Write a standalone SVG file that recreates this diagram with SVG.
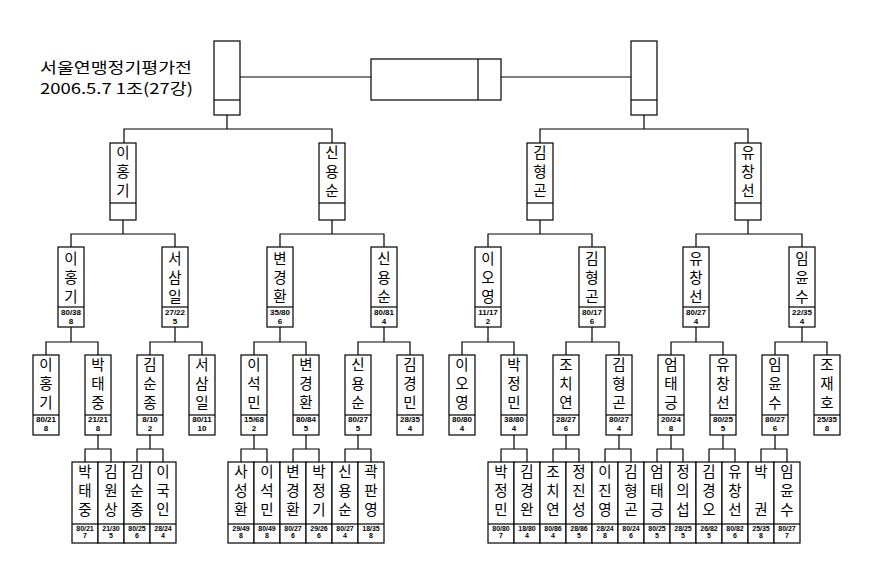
<svg xmlns="http://www.w3.org/2000/svg" width="874" height="570" viewBox="0 0 874 570">
<style>
.b{fill:#fff;stroke:#000;stroke-width:1.2}
.d{stroke:#000;stroke-width:1.2}
.c{fill:none;stroke:#000;stroke-width:1.2}
.n{font-family:"Noto Sans CJK KR","Noto Sans",sans-serif;font-size:14.5px;text-anchor:middle;fill:#000}
.t{font-family:"Noto Sans CJK KR","Noto Sans",sans-serif;font-size:15px;fill:#000}
.s{font-family:"Liberation Sans",Arial,sans-serif;font-size:8px;font-weight:bold;text-anchor:middle;fill:#000}
.s4{font-size:7px}
</style>
<rect width="874" height="570" fill="#fff"/>
<g id="title">
<text class="t" x="40" y="73" textLength="152" lengthAdjust="spacingAndGlyphs">서울연맹정기평가전</text>
<text class="t" x="40" y="94" textLength="153" lengthAdjust="spacingAndGlyphs">2006.5.7 1조(27강)</text>
</g>
<g id="connectors" class="c">
<path d="M240 77H371M501 77H631"/>
<path d="M227 115V129M124 143V129H332V143M644 115V129M540 143V129H748V143"/>
<path d="M123 220V234M71 247V234H175V247M332 220V234M280 247V234H384V247M540 220V234M488 247V234H592V247M748 220V234M696 247V234H802V247"/>
<path d="M71 327V342M46 355V342H98V355M175 327V342M150 355V342H202V355M280 327V342M254 355V342H306V355M384 327V342M358 355V342H410V355M488 327V342M462 355V342H514V355M592 327V342M566 355V342H619V355M696 327V342M671 355V342H723V355M802 327V342M775 355V342H827V355"/>
<path d="M98 435V449M85 462V449H111V462M150 435V449M137 462V449H163V462M254 435V449M241 462V449H267V462M306 435V449M293 462V449H319V462M358 435V449M345 462V449H371V462"/>
<path d="M514 435V449M501 462V449H527V462M566 435V449M553 462V449H579V462M619 435V449M605 462V449H631V462M671 435V449M657 462V449H683V462M723 435V449M709 462V449H735V462M775 435V449M761 462V449H787V462"/>
</g>
<g id="final-left"><rect class="b" x="214" y="41" width="26" height="74"/><line class="d" x1="214" y1="100" x2="240" y2="100"/></g>
<g id="final-center"><rect class="b" x="371" y="59" width="130" height="41"/><line class="d" x1="478" y1="59" x2="478" y2="100"/></g>
<g id="final-right"><rect class="b" x="631" y="41" width="26" height="74"/><line class="d" x1="631" y1="100" x2="657" y2="100"/></g>

<g id="r1-1"><rect class="b" x="110" y="143" width="26" height="77"/><line class="d" x1="110" y1="203" x2="136" y2="203"/><text class="n"><tspan x="123" y="158">이</tspan><tspan x="123" y="177">홍</tspan><tspan x="123" y="196">기</tspan></text></g>
<g id="r1-2"><rect class="b" x="319" y="143" width="26" height="77"/><line class="d" x1="319" y1="203" x2="345" y2="203"/><text class="n"><tspan x="332" y="158">신</tspan><tspan x="332" y="177">용</tspan><tspan x="332" y="196">순</tspan></text></g>
<g id="r1-3"><rect class="b" x="527" y="143" width="26" height="77"/><line class="d" x1="527" y1="203" x2="553" y2="203"/><text class="n"><tspan x="540" y="158">김</tspan><tspan x="540" y="177">형</tspan><tspan x="540" y="196">곤</tspan></text></g>
<g id="r1-4"><rect class="b" x="735" y="143" width="26" height="77"/><line class="d" x1="735" y1="203" x2="761" y2="203"/><text class="n"><tspan x="748" y="158">유</tspan><tspan x="748" y="177">창</tspan><tspan x="748" y="196">선</tspan></text></g>

<g id="r2-1"><rect class="b" x="58" y="247" width="26" height="80"/><line class="d" x1="58" y1="307" x2="84" y2="307"/><text class="n"><tspan x="71" y="264">이</tspan><tspan x="71" y="283">홍</tspan><tspan x="71" y="302">기</tspan></text><text class="s"><tspan x="71" y="315">80/38</tspan><tspan x="71" y="324">8</tspan></text></g>
<g id="r2-2"><rect class="b" x="162" y="247" width="26" height="80"/><line class="d" x1="162" y1="307" x2="188" y2="307"/><text class="n"><tspan x="175" y="264">서</tspan><tspan x="175" y="283">삼</tspan><tspan x="175" y="302">일</tspan></text><text class="s"><tspan x="175" y="315">27/22</tspan><tspan x="175" y="324">5</tspan></text></g>
<g id="r2-3"><rect class="b" x="267" y="247" width="26" height="80"/><line class="d" x1="267" y1="307" x2="293" y2="307"/><text class="n"><tspan x="280" y="264">변</tspan><tspan x="280" y="283">경</tspan><tspan x="280" y="302">환</tspan></text><text class="s"><tspan x="280" y="315">35/80</tspan><tspan x="280" y="324">6</tspan></text></g>
<g id="r2-4"><rect class="b" x="371" y="247" width="26" height="80"/><line class="d" x1="371" y1="307" x2="397" y2="307"/><text class="n"><tspan x="384" y="264">신</tspan><tspan x="384" y="283">용</tspan><tspan x="384" y="302">순</tspan></text><text class="s"><tspan x="384" y="315">80/81</tspan><tspan x="384" y="324">4</tspan></text></g>
<g id="r2-5"><rect class="b" x="475" y="247" width="26" height="80"/><line class="d" x1="475" y1="307" x2="501" y2="307"/><text class="n"><tspan x="488" y="264">이</tspan><tspan x="488" y="283">오</tspan><tspan x="488" y="302">영</tspan></text><text class="s"><tspan x="488" y="315">11/17</tspan><tspan x="488" y="324">2</tspan></text></g>
<g id="r2-6"><rect class="b" x="579" y="247" width="26" height="80"/><line class="d" x1="579" y1="307" x2="605" y2="307"/><text class="n"><tspan x="592" y="264">김</tspan><tspan x="592" y="283">형</tspan><tspan x="592" y="302">곤</tspan></text><text class="s"><tspan x="592" y="315">80/17</tspan><tspan x="592" y="324">6</tspan></text></g>
<g id="r2-7"><rect class="b" x="683" y="247" width="26" height="80"/><line class="d" x1="683" y1="307" x2="709" y2="307"/><text class="n"><tspan x="696" y="264">유</tspan><tspan x="696" y="283">창</tspan><tspan x="696" y="302">선</tspan></text><text class="s"><tspan x="696" y="315">80/27</tspan><tspan x="696" y="324">4</tspan></text></g>
<g id="r2-8"><rect class="b" x="789" y="247" width="26" height="80"/><line class="d" x1="789" y1="307" x2="815" y2="307"/><text class="n"><tspan x="802" y="264">임</tspan><tspan x="802" y="283">윤</tspan><tspan x="802" y="302">수</tspan></text><text class="s"><tspan x="802" y="315">22/35</tspan><tspan x="802" y="324">4</tspan></text></g>

<g id="r3-1"><rect class="b" x="33" y="355" width="26" height="80"/><line class="d" x1="33" y1="415" x2="59" y2="415"/><text class="n"><tspan x="46" y="370">이</tspan><tspan x="46" y="389">홍</tspan><tspan x="46" y="408">기</tspan></text><text class="s"><tspan x="46" y="422">80/21</tspan><tspan x="46" y="431">8</tspan></text></g>
<g id="r3-2"><rect class="b" x="85" y="355" width="26" height="80"/><line class="d" x1="85" y1="415" x2="111" y2="415"/><text class="n"><tspan x="98" y="370">박</tspan><tspan x="98" y="389">태</tspan><tspan x="98" y="408">중</tspan></text><text class="s"><tspan x="98" y="422">21/21</tspan><tspan x="98" y="431">8</tspan></text></g>
<g id="r3-3"><rect class="b" x="137" y="355" width="26" height="80"/><line class="d" x1="137" y1="415" x2="163" y2="415"/><text class="n"><tspan x="150" y="370">김</tspan><tspan x="150" y="389">순</tspan><tspan x="150" y="408">종</tspan></text><text class="s"><tspan x="150" y="422">8/10</tspan><tspan x="150" y="431">2</tspan></text></g>
<g id="r3-4"><rect class="b" x="189" y="355" width="26" height="80"/><line class="d" x1="189" y1="415" x2="215" y2="415"/><text class="n"><tspan x="202" y="370">서</tspan><tspan x="202" y="389">삼</tspan><tspan x="202" y="408">일</tspan></text><text class="s"><tspan x="202" y="422">80/11</tspan><tspan x="202" y="431">10</tspan></text></g>
<g id="r3-5"><rect class="b" x="241" y="355" width="26" height="80"/><line class="d" x1="241" y1="415" x2="267" y2="415"/><text class="n"><tspan x="254" y="370">이</tspan><tspan x="254" y="389">석</tspan><tspan x="254" y="408">민</tspan></text><text class="s"><tspan x="254" y="422">15/68</tspan><tspan x="254" y="431">2</tspan></text></g>
<g id="r3-6"><rect class="b" x="293" y="355" width="26" height="80"/><line class="d" x1="293" y1="415" x2="319" y2="415"/><text class="n"><tspan x="306" y="370">변</tspan><tspan x="306" y="389">경</tspan><tspan x="306" y="408">환</tspan></text><text class="s"><tspan x="306" y="422">80/84</tspan><tspan x="306" y="431">5</tspan></text></g>
<g id="r3-7"><rect class="b" x="345" y="355" width="26" height="80"/><line class="d" x1="345" y1="415" x2="371" y2="415"/><text class="n"><tspan x="358" y="370">신</tspan><tspan x="358" y="389">용</tspan><tspan x="358" y="408">순</tspan></text><text class="s"><tspan x="358" y="422">80/27</tspan><tspan x="358" y="431">5</tspan></text></g>
<g id="r3-8"><rect class="b" x="397" y="355" width="26" height="80"/><line class="d" x1="397" y1="415" x2="423" y2="415"/><text class="n"><tspan x="410" y="370">김</tspan><tspan x="410" y="389">경</tspan><tspan x="410" y="408">민</tspan></text><text class="s"><tspan x="410" y="422">28/35</tspan><tspan x="410" y="431">4</tspan></text></g>
<g id="r3-9"><rect class="b" x="449" y="355" width="26" height="80"/><line class="d" x1="449" y1="415" x2="475" y2="415"/><text class="n"><tspan x="462" y="370">이</tspan><tspan x="462" y="389">오</tspan><tspan x="462" y="408">영</tspan></text><text class="s"><tspan x="462" y="422">80/80</tspan><tspan x="462" y="431">4</tspan></text></g>
<g id="r3-10"><rect class="b" x="501" y="355" width="26" height="80"/><line class="d" x1="501" y1="415" x2="527" y2="415"/><text class="n"><tspan x="514" y="370">박</tspan><tspan x="514" y="389">정</tspan><tspan x="514" y="408">민</tspan></text><text class="s"><tspan x="514" y="422">38/80</tspan><tspan x="514" y="431">4</tspan></text></g>
<g id="r3-11"><rect class="b" x="553" y="355" width="26" height="80"/><line class="d" x1="553" y1="415" x2="579" y2="415"/><text class="n"><tspan x="566" y="370">조</tspan><tspan x="566" y="389">치</tspan><tspan x="566" y="408">연</tspan></text><text class="s"><tspan x="566" y="422">28/27</tspan><tspan x="566" y="431">6</tspan></text></g>
<g id="r3-12"><rect class="b" x="606" y="355" width="26" height="80"/><line class="d" x1="606" y1="415" x2="632" y2="415"/><text class="n"><tspan x="619" y="370">김</tspan><tspan x="619" y="389">형</tspan><tspan x="619" y="408">곤</tspan></text><text class="s"><tspan x="619" y="422">80/27</tspan><tspan x="619" y="431">4</tspan></text></g>
<g id="r3-13"><rect class="b" x="658" y="355" width="26" height="80"/><line class="d" x1="658" y1="415" x2="684" y2="415"/><text class="n"><tspan x="671" y="370">엄</tspan><tspan x="671" y="389">태</tspan><tspan x="671" y="408">긍</tspan></text><text class="s"><tspan x="671" y="422">20/24</tspan><tspan x="671" y="431">8</tspan></text></g>
<g id="r3-14"><rect class="b" x="710" y="355" width="26" height="80"/><line class="d" x1="710" y1="415" x2="736" y2="415"/><text class="n"><tspan x="723" y="370">유</tspan><tspan x="723" y="389">창</tspan><tspan x="723" y="408">선</tspan></text><text class="s"><tspan x="723" y="422">80/25</tspan><tspan x="723" y="431">5</tspan></text></g>
<g id="r3-15"><rect class="b" x="762" y="355" width="26" height="80"/><line class="d" x1="762" y1="415" x2="788" y2="415"/><text class="n"><tspan x="775" y="370">임</tspan><tspan x="775" y="389">윤</tspan><tspan x="775" y="408">수</tspan></text><text class="s"><tspan x="775" y="422">80/27</tspan><tspan x="775" y="431">6</tspan></text></g>
<g id="r3-16"><rect class="b" x="814" y="355" width="26" height="80"/><line class="d" x1="814" y1="415" x2="840" y2="415"/><text class="n"><tspan x="827" y="370">조</tspan><tspan x="827" y="389">재</tspan><tspan x="827" y="408">호</tspan></text><text class="s"><tspan x="827" y="422">25/35</tspan><tspan x="827" y="431">8</tspan></text></g>

<g id="r4-1"><rect class="b" x="72" y="462" width="26" height="81"/><line class="d" x1="72" y1="524" x2="98" y2="524"/><text class="n"><tspan x="85" y="477">박</tspan><tspan x="85" y="496">태</tspan><tspan x="85" y="515">중</tspan></text><text class="s s4"><tspan x="85" y="531">80/21</tspan><tspan x="85" y="538">7</tspan></text></g>
<g id="r4-2"><rect class="b" x="98" y="462" width="26" height="81"/><line class="d" x1="98" y1="524" x2="124" y2="524"/><text class="n"><tspan x="111" y="477">김</tspan><tspan x="111" y="496">원</tspan><tspan x="111" y="515">상</tspan></text><text class="s s4"><tspan x="111" y="531">21/30</tspan><tspan x="111" y="538">5</tspan></text></g>
<g id="r4-3"><rect class="b" x="124" y="462" width="26" height="81"/><line class="d" x1="124" y1="524" x2="150" y2="524"/><text class="n"><tspan x="137" y="477">김</tspan><tspan x="137" y="496">순</tspan><tspan x="137" y="515">종</tspan></text><text class="s s4"><tspan x="137" y="531">80/25</tspan><tspan x="137" y="538">6</tspan></text></g>
<g id="r4-4"><rect class="b" x="150" y="462" width="26" height="81"/><line class="d" x1="150" y1="524" x2="176" y2="524"/><text class="n"><tspan x="163" y="477">이</tspan><tspan x="163" y="496">국</tspan><tspan x="163" y="515">인</tspan></text><text class="s s4"><tspan x="163" y="531">28/24</tspan><tspan x="163" y="538">4</tspan></text></g>
<g id="r4-5"><rect class="b" x="228" y="462" width="26" height="81"/><line class="d" x1="228" y1="524" x2="254" y2="524"/><text class="n"><tspan x="241" y="477">사</tspan><tspan x="241" y="496">성</tspan><tspan x="241" y="515">환</tspan></text><text class="s s4"><tspan x="241" y="531">29/49</tspan><tspan x="241" y="538">8</tspan></text></g>
<g id="r4-6"><rect class="b" x="254" y="462" width="26" height="81"/><line class="d" x1="254" y1="524" x2="280" y2="524"/><text class="n"><tspan x="267" y="477">이</tspan><tspan x="267" y="496">석</tspan><tspan x="267" y="515">민</tspan></text><text class="s s4"><tspan x="267" y="531">80/49</tspan><tspan x="267" y="538">8</tspan></text></g>
<g id="r4-7"><rect class="b" x="280" y="462" width="26" height="81"/><line class="d" x1="280" y1="524" x2="306" y2="524"/><text class="n"><tspan x="293" y="477">변</tspan><tspan x="293" y="496">경</tspan><tspan x="293" y="515">환</tspan></text><text class="s s4"><tspan x="293" y="531">80/27</tspan><tspan x="293" y="538">6</tspan></text></g>
<g id="r4-8"><rect class="b" x="306" y="462" width="26" height="81"/><line class="d" x1="306" y1="524" x2="332" y2="524"/><text class="n"><tspan x="319" y="477">박</tspan><tspan x="319" y="496">정</tspan><tspan x="319" y="515">기</tspan></text><text class="s s4"><tspan x="319" y="531">29/26</tspan><tspan x="319" y="538">6</tspan></text></g>
<g id="r4-9"><rect class="b" x="332" y="462" width="26" height="81"/><line class="d" x1="332" y1="524" x2="358" y2="524"/><text class="n"><tspan x="345" y="477">신</tspan><tspan x="345" y="496">용</tspan><tspan x="345" y="515">순</tspan></text><text class="s s4"><tspan x="345" y="531">80/27</tspan><tspan x="345" y="538">4</tspan></text></g>
<g id="r4-10"><rect class="b" x="358" y="462" width="26" height="81"/><line class="d" x1="358" y1="524" x2="384" y2="524"/><text class="n"><tspan x="371" y="477">곽</tspan><tspan x="371" y="496">판</tspan><tspan x="371" y="515">영</tspan></text><text class="s s4"><tspan x="371" y="531">18/35</tspan><tspan x="371" y="538">8</tspan></text></g>
<g id="r4-11"><rect class="b" x="488" y="462" width="26" height="81"/><line class="d" x1="488" y1="524" x2="514" y2="524"/><text class="n"><tspan x="501" y="477">박</tspan><tspan x="501" y="496">정</tspan><tspan x="501" y="515">민</tspan></text><text class="s s4"><tspan x="501" y="531">80/80</tspan><tspan x="501" y="538">7</tspan></text></g>
<g id="r4-12"><rect class="b" x="514" y="462" width="26" height="81"/><line class="d" x1="514" y1="524" x2="540" y2="524"/><text class="n"><tspan x="527" y="477">김</tspan><tspan x="527" y="496">경</tspan><tspan x="527" y="515">완</tspan></text><text class="s s4"><tspan x="527" y="531">18/80</tspan><tspan x="527" y="538">4</tspan></text></g>
<g id="r4-13"><rect class="b" x="540" y="462" width="26" height="81"/><line class="d" x1="540" y1="524" x2="566" y2="524"/><text class="n"><tspan x="553" y="477">조</tspan><tspan x="553" y="496">치</tspan><tspan x="553" y="515">연</tspan></text><text class="s s4"><tspan x="553" y="531">80/86</tspan><tspan x="553" y="538">4</tspan></text></g>
<g id="r4-14"><rect class="b" x="566" y="462" width="26" height="81"/><line class="d" x1="566" y1="524" x2="592" y2="524"/><text class="n"><tspan x="579" y="477">정</tspan><tspan x="579" y="496">진</tspan><tspan x="579" y="515">성</tspan></text><text class="s s4"><tspan x="579" y="531">28/86</tspan><tspan x="579" y="538">5</tspan></text></g>
<g id="r4-15"><rect class="b" x="592" y="462" width="26" height="81"/><line class="d" x1="592" y1="524" x2="618" y2="524"/><text class="n"><tspan x="605" y="477">이</tspan><tspan x="605" y="496">진</tspan><tspan x="605" y="515">영</tspan></text><text class="s s4"><tspan x="605" y="531">28/24</tspan><tspan x="605" y="538">8</tspan></text></g>
<g id="r4-16"><rect class="b" x="618" y="462" width="26" height="81"/><line class="d" x1="618" y1="524" x2="644" y2="524"/><text class="n"><tspan x="631" y="477">김</tspan><tspan x="631" y="496">형</tspan><tspan x="631" y="515">곤</tspan></text><text class="s s4"><tspan x="631" y="531">80/24</tspan><tspan x="631" y="538">6</tspan></text></g>
<g id="r4-17"><rect class="b" x="644" y="462" width="26" height="81"/><line class="d" x1="644" y1="524" x2="670" y2="524"/><text class="n"><tspan x="657" y="477">엄</tspan><tspan x="657" y="496">태</tspan><tspan x="657" y="515">긍</tspan></text><text class="s s4"><tspan x="657" y="531">80/25</tspan><tspan x="657" y="538">5</tspan></text></g>
<g id="r4-18"><rect class="b" x="670" y="462" width="26" height="81"/><line class="d" x1="670" y1="524" x2="696" y2="524"/><text class="n"><tspan x="683" y="477">정</tspan><tspan x="683" y="496">의</tspan><tspan x="683" y="515">섭</tspan></text><text class="s s4"><tspan x="683" y="531">28/25</tspan><tspan x="683" y="538">5</tspan></text></g>
<g id="r4-19"><rect class="b" x="696" y="462" width="26" height="81"/><line class="d" x1="696" y1="524" x2="722" y2="524"/><text class="n"><tspan x="709" y="477">김</tspan><tspan x="709" y="496">경</tspan><tspan x="709" y="515">오</tspan></text><text class="s s4"><tspan x="709" y="531">26/82</tspan><tspan x="709" y="538">5</tspan></text></g>
<g id="r4-20"><rect class="b" x="722" y="462" width="26" height="81"/><line class="d" x1="722" y1="524" x2="748" y2="524"/><text class="n"><tspan x="735" y="477">유</tspan><tspan x="735" y="496">창</tspan><tspan x="735" y="515">선</tspan></text><text class="s s4"><tspan x="735" y="531">80/82</tspan><tspan x="735" y="538">6</tspan></text></g>
<g id="r4-21"><rect class="b" x="748" y="462" width="26" height="81"/><line class="d" x1="748" y1="524" x2="774" y2="524"/><text class="n"><tspan x="761" y="477">박</tspan><tspan x="761" y="515">권</tspan></text><text class="s s4"><tspan x="761" y="531">25/35</tspan><tspan x="761" y="538">8</tspan></text></g>
<g id="r4-22"><rect class="b" x="774" y="462" width="26" height="81"/><line class="d" x1="774" y1="524" x2="800" y2="524"/><text class="n"><tspan x="787" y="477">임</tspan><tspan x="787" y="496">윤</tspan><tspan x="787" y="515">수</tspan></text><text class="s s4"><tspan x="787" y="531">80/27</tspan><tspan x="787" y="538">7</tspan></text></g>
</svg>
